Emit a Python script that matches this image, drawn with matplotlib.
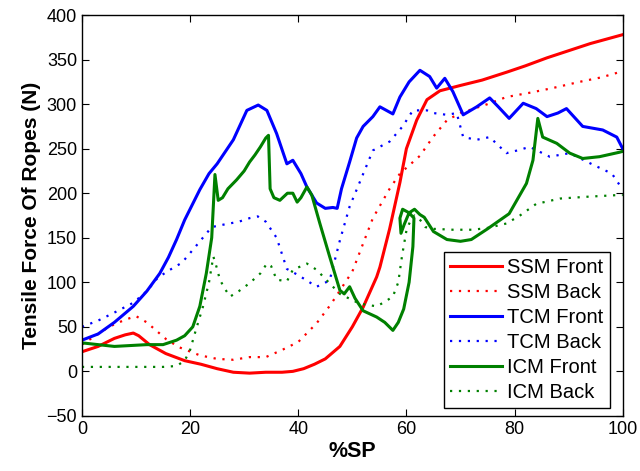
import matplotlib
matplotlib.use("Agg")
import matplotlib.pyplot as plt

plt.rcParams['font.family'] = ['Liberation Sans', 'DejaVu Sans']

# SSM Front (red solid)
ssm_front_x = [0, 3, 6, 8, 9.5, 10.5, 12.5, 15.5, 19, 22, 25, 28, 31, 34, 37, 39, 41, 43, 45,
               47.7, 50, 52, 54.5, 55.1, 56.9, 58.8, 60, 61.9, 63.8, 66.2, 70, 74, 78.6, 82,
               86, 90, 94, 97, 100]
ssm_front_y = [22, 28, 37, 41, 43, 40, 30, 20, 12, 8, 3, -1, -2, -1, -1, 0, 3, 8, 14,
               28, 50, 72, 106, 117, 160, 212, 250, 282, 305, 315, 321, 327, 336, 343,
               352, 360, 368, 373, 378]

# SSM Back (red dotted)
ssm_back_x = [0, 3, 5, 8, 10, 12, 15.6, 18, 21.8, 25, 28, 31, 34, 37, 40, 43.4, 46, 50, 53.8,
              56.9, 58.8, 62.5, 64.9, 67.5, 70, 75, 78.5, 83, 87, 92, 96, 100]
ssm_back_y = [30, 42, 50, 58, 62, 55, 36, 27, 18, 14, 13, 16, 16, 24, 33, 54, 75, 112, 172,
              205, 222, 242, 263, 282, 290, 300, 308, 313, 318, 325, 330, 337]

# TCM Front (blue solid)
tcm_front_x = [0, 3, 6, 9.5, 12, 14.4, 16, 17.5, 19, 21.8, 23.5, 25, 28, 30.5, 32.6, 34.2, 36,
               37.9, 39, 40.5, 41.6, 43.4, 45, 46.4, 47.2, 48, 49.5, 50.8, 52, 53.8, 55.1,
               57.5, 58.8, 60.5, 62.5, 64.3, 65.6, 67.1, 68.6, 70.5, 73, 75.4, 77, 79, 81.6,
               84, 86, 88, 89.6, 92.6, 96.3, 98.9, 100]
tcm_front_y = [35, 42, 55, 73, 90, 110, 128, 148, 170, 204, 222, 233, 260, 293, 299, 293, 267,
               233, 237, 222, 207, 189, 183, 184, 183, 205, 235, 262, 275, 286, 297,
               289, 308, 325, 338, 331, 318, 329, 314, 288, 297, 307, 297, 284, 301,
               295, 286, 290, 295, 275, 271, 263, 250]

# TCM Back (blue dotted)
tcm_back_x = [0, 3, 6, 9.5, 12, 14, 16, 18.5, 21, 24, 26.4, 29, 31, 32.5, 34, 36, 37.9, 40,
              43.4, 45.8, 47.7, 49.5, 50.8, 53.8, 56.9, 59.3, 61.2, 63.8, 65, 67.5, 69.3,
              70.5, 73, 75.4, 78.5, 80.5, 82.8, 86.5, 90.2, 94.5, 98, 100]
tcm_back_y = [50, 57, 66, 77, 90, 105, 113, 122, 140, 162, 165, 168, 172, 174, 168, 150, 115,
              108, 95, 102, 147, 185, 204, 248, 258, 275, 293, 293, 290, 288, 290,
              263, 260, 263, 245, 248, 252, 241, 245, 232, 222, 204]

# ICM Front (green solid)
icm_front_x = [0, 3, 6, 9, 12, 15, 17.5, 19, 20.5, 21.8, 23, 24, 24.6, 25.2, 26, 27, 28.6, 30,
               31, 32, 33, 34, 34.5, 34.8, 35.5, 36.6, 38, 39, 39.8, 40.5, 41.6, 42.5, 44,
               45.8, 47.7, 48.5, 49.5, 50.5, 52, 54.5, 56, 57.5, 58.5, 59.5, 60.5, 61.2,
               61.4, 60.5, 59.3, 58.8, 59.0, 59.6, 60.5, 61.5, 62.5, 63.3, 65, 67.5, 70,
               72, 75, 79, 82.2, 83.4, 84.3, 85.2, 87.8, 90.2, 92.6, 95.7, 99.4, 100]
icm_front_y = [32, 30, 28, 29, 30, 30, 35, 40, 50, 73, 110, 150, 221, 192, 195, 205, 215, 225,
               235, 243, 252, 262, 265, 205, 195, 192, 200, 200, 190, 195, 207, 198, 166,
               129, 91, 87, 95, 82, 68, 61, 55, 46, 55, 70, 100, 140,
               172, 178, 182, 172, 155, 165, 178, 182, 176, 173, 157, 148, 146,
               148, 160, 177, 211, 237, 284, 263, 256, 245, 239, 241, 246, 247]

# ICM Back (green dotted)
icm_back_x = [0, 5, 10, 15, 17.5, 19, 20, 21, 22.4, 23.5, 24.3, 25, 25.5, 26.5, 27.4, 29, 31,
              33, 34.2, 35, 36, 37.9, 39, 40.5, 41.6, 43.4, 45.3, 47.7, 50, 51.4, 54.5, 56,
              57.5, 58.5, 59.2, 60, 60.8, 61.5, 62.3, 63.5, 65, 68.6, 72.3, 75, 78.5, 81,
              84, 88.4, 93.3, 99.4, 100]
icm_back_y = [5, 5, 5, 5, 6, 12, 24, 45, 73, 100, 129, 115, 103, 92, 84, 90, 99,
              110, 121, 118, 103, 101, 114, 118, 121, 114, 102, 87, 80, 76, 73, 78,
              84, 100, 130, 158, 170, 175, 172, 162, 160, 159, 159, 161, 166, 175,
              188, 194, 196, 198, 198]

series = [
    (ssm_front_x, ssm_front_y, 'SSM Front', 'red', '-'),
    (ssm_back_x, ssm_back_y, 'SSM Back', 'red', ':'),
    (tcm_front_x, tcm_front_y, 'TCM Front', 'blue', '-'),
    (tcm_back_x, tcm_back_y, 'TCM Back', 'blue', ':'),
    (icm_front_x, icm_front_y, 'ICM Front', '#008000', '-'),
    (icm_back_x, icm_back_y, 'ICM Back', '#008000', ':'),
]


def main():
    fig = plt.figure(figsize=(6.4, 4.71), dpi=100)
    ax = fig.add_axes([0.128, 0.117, 0.845, 0.851])

    for x, y, label, color, style in series:
        if style == '-':
            ax.plot(x, y, color=color, lw=2.2, label=label)
        else:
            ax.plot(x, y, color=color, lw=1.6, linestyle=(0, (1, 3)), label=label)

    ax.set_xlim(0, 100)
    ax.set_ylim(-50, 400)
    ax.set_xticks(range(0, 101, 20))
    ax.set_yticks(range(-50, 401, 50))
    ax.tick_params(direction='in', top=True, right=True, labelsize=13, length=5)
    for spine in ax.spines.values():
        spine.set_linewidth(1.0)

    ax.set_xlabel('%SP', fontsize=15.5, fontweight='bold', labelpad=2)
    ax.set_ylabel('Tensile Force Of Ropes (N)', fontsize=15, fontweight='bold')

    leg = ax.legend(loc='lower right', bbox_to_anchor=(0.976, 0.02), borderaxespad=0,
                    fontsize=14.5, handlelength=2.6, handletextpad=0.25,
                    labelspacing=0.3, fancybox=False, framealpha=1, borderpad=0.3)
    leg.get_frame().set_edgecolor('black')
    leg.get_frame().set_linewidth(1.0)

    fig.savefig('out.png', dpi=100)
    plt.close(fig)


if __name__ == "__main__":
    main()
